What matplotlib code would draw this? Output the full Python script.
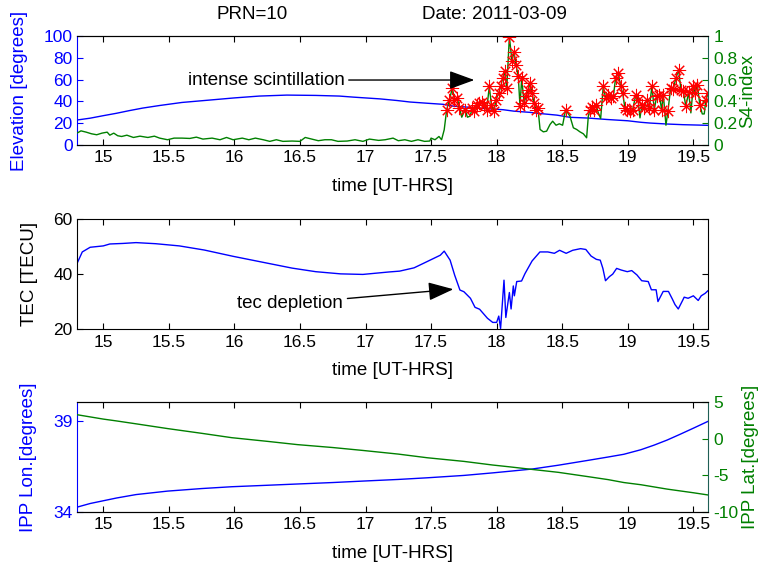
import numpy as np
import matplotlib
matplotlib.use('Agg')
import matplotlib.pyplot as plt

plt.rcParams['font.family'] = ['Liberation Sans', 'DejaVu Sans']
plt.rcParams['axes.unicode_minus'] = False

# elevation (left axis, top panel)
elev_t = [14.80, 14.90, 15.00, 15.10, 15.20, 15.30, 15.43, 15.60, 15.81, 16.00,
          16.19, 16.40, 16.62, 16.80, 16.91, 17.11, 17.24, 17.34, 17.48, 17.59,
          17.67, 17.80, 17.92, 18.05, 18.13, 18.25, 18.33, 18.46, 18.56, 18.70,
          18.84, 19.00, 19.10, 19.17, 19.30, 19.42, 19.61]
elev = [22.8, 24.5, 26.8, 29.0, 31.5, 33.8, 36.2, 39.0, 41.2, 43.2,
        44.9, 45.8, 45.5, 44.9, 43.9, 42.3, 40.8, 39.4, 38.2, 37.3,
        35.6, 34.5, 33.3, 32.3, 31.0, 29.9, 28.8, 27.3, 25.3, 24.6,
        23.3, 22.1, 20.7, 20.0, 19.1, 18.5, 17.9]

# S4 index (right axis, top panel)
s4_t = [14.80, 14.83, 14.87, 14.91, 14.95, 14.99, 15.03, 15.05, 15.08, 15.11,
        15.14, 15.18, 15.23, 15.28, 15.34, 15.39, 15.43, 15.49, 15.54, 15.60,
        15.66, 15.71, 15.76, 15.83, 15.89, 15.94, 15.99, 16.06, 16.11, 16.16,
        16.22, 16.27, 16.32, 16.37, 16.44, 16.50, 16.54, 16.59, 16.64, 16.69,
        16.74, 16.79, 16.86, 16.92, 16.98, 17.03, 17.10, 17.15, 17.21, 17.25,
        17.30, 17.35, 17.40, 17.45, 17.49, 17.50, 17.53, 17.56, 17.58, 17.60,
        17.619, 17.640, 17.662, 17.678, 17.700, 17.716, 17.734, 17.759, 17.777, 17.797,
        17.815, 17.830, 17.848, 17.868, 17.886, 17.904, 17.924, 17.944, 17.960, 17.980,
        17.995, 18.016, 18.031, 18.046, 18.061, 18.077, 18.097, 18.117, 18.132, 18.148,
        18.165, 18.178, 18.191, 18.209, 18.224, 18.242, 18.254, 18.270, 18.285, 18.300,
        18.315, 18.331, 18.356, 18.381, 18.407, 18.427, 18.453, 18.478, 18.503, 18.526,
        18.559, 18.585, 18.610, 18.635, 18.661, 18.686, 18.699, 18.712, 18.727, 18.742,
        18.757, 18.775, 18.793, 18.813, 18.831, 18.851, 18.869, 18.890, 18.907, 18.928,
        18.945, 18.961, 18.978, 18.996, 19.017, 19.037, 19.062, 19.078, 19.093, 19.108,
        19.126, 19.144, 19.164, 19.184, 19.202, 19.220, 19.240, 19.258, 19.271, 19.291,
        19.306, 19.327, 19.347, 19.367, 19.388, 19.405, 19.423, 19.443, 19.464, 19.481,
        19.499, 19.514, 19.530, 19.550, 19.568, 19.583, 19.596, 19.614]
s4 = [0.107, 0.128, 0.116, 0.101, 0.092, 0.107, 0.116, 0.088, 0.107, 0.083,
      0.076, 0.088, 0.067, 0.079, 0.067, 0.079, 0.061, 0.046, 0.061, 0.061,
      0.058, 0.070, 0.052, 0.061, 0.046, 0.067, 0.046, 0.061, 0.046, 0.061,
      0.046, 0.031, 0.046, 0.031, 0.034, 0.031, 0.067, 0.052, 0.037, 0.046,
      0.046, 0.031, 0.034, 0.046, 0.031, 0.052, 0.040, 0.046, 0.061, 0.037,
      0.046, 0.031, 0.046, 0.031, 0.034, 0.061, 0.046, 0.076, 0.046, 0.138,
      0.324, 0.416, 0.523, 0.416, 0.431, 0.339, 0.254, 0.324, 0.254, 0.263,
      0.339, 0.309, 0.370, 0.385, 0.394, 0.364, 0.324, 0.538, 0.364, 0.309,
      0.416, 0.477, 0.538, 0.615, 0.676, 0.523, 0.997, 0.768, 0.859, 0.737,
      0.630, 0.355, 0.615, 0.385, 0.446, 0.508, 0.569, 0.477, 0.385, 0.324,
      0.339, 0.141, 0.119, 0.125, 0.187, 0.217, 0.180, 0.193, 0.180, 0.324,
      0.263, 0.156, 0.141, 0.119, 0.101, 0.064, 0.263, 0.324, 0.346, 0.324,
      0.370, 0.294, 0.242, 0.538, 0.431, 0.462, 0.431, 0.446, 0.615, 0.661,
      0.538, 0.477, 0.339, 0.324, 0.309, 0.324, 0.462, 0.416, 0.248, 0.370,
      0.339, 0.416, 0.339, 0.538, 0.324, 0.446, 0.462, 0.324, 0.462, 0.180,
      0.309, 0.523, 0.517, 0.615, 0.691, 0.508, 0.492, 0.355, 0.486, 0.294,
      0.538, 0.477, 0.554, 0.364, 0.284, 0.284, 0.416, 0.477]
s4_limit = 0.3  # scintillation threshold marked with red stars

# TEC (middle panel)
tec_t = [14.80, 14.84, 14.90, 15.00, 15.05, 15.15, 15.25, 15.40, 15.58, 15.77,
         15.99, 16.22, 16.44, 16.62, 16.81, 16.98, 17.18, 17.26, 17.37, 17.44,
         17.57, 17.60, 17.645, 17.68, 17.72, 17.75, 17.80, 17.835, 17.87, 17.93,
         17.97, 18.00, 18.016, 18.03, 18.056, 18.07, 18.097, 18.11, 18.127, 18.135,
         18.153, 18.19, 18.216, 18.27, 18.33, 18.39, 18.44, 18.48, 18.53, 18.58,
         18.64, 18.68, 18.72, 18.76, 18.79, 18.81, 18.83, 18.86, 18.885, 18.915,
         18.95, 18.996, 19.03, 19.07, 19.106, 19.156, 19.18, 19.216, 19.23, 19.27,
         19.31, 19.34, 19.36, 19.385, 19.42, 19.43, 19.46, 19.50, 19.537, 19.56,
         19.59, 19.61]
tec = [43.9, 48.1, 49.8, 50.3, 51.0, 51.2, 51.5, 51.1, 50.3, 48.8,
       46.5, 44.3, 42.2, 40.9, 40.1, 39.9, 40.8, 41.1, 42.3, 43.9,
       46.9, 48.4, 45.1, 39.6, 34.2, 33.6, 31.2, 27.9, 27.2, 23.9,
       22.4, 22.4, 24.7, 20.2, 37.8, 24.2, 33.3, 27.3, 35.7, 32.1,
       37.3, 37.5, 40.2, 44.8, 48.1, 48.1, 47.6, 48.7, 47.6, 48.7,
       49.3, 49.0, 46.6, 45.4, 45.1, 42.1, 37.6, 39.1, 40.0, 42.1,
       41.5, 40.9, 41.3, 39.7, 37.6, 37.3, 34.3, 34.3, 30.0, 33.7,
       33.7, 30.9, 28.9, 27.3, 30.6, 31.6, 31.2, 32.1, 30.4, 32.1,
       33.0, 33.9]

# IPP position (bottom panel)
ipp_t = [14.80, 14.90, 15.00, 15.10, 15.25, 15.49, 15.75, 15.98, 16.25, 16.48,
         16.75, 16.98, 17.25, 17.47, 17.75, 17.97, 18.10, 18.27, 18.47, 18.70,
         18.85, 18.97, 19.10, 19.20, 19.30, 19.40, 19.50, 19.61]
ipp_lon = [34.25, 34.45, 34.6, 34.75, 34.94, 35.13, 35.27, 35.37, 35.45, 35.52,
           35.6, 35.68, 35.77, 35.86, 35.99, 36.13, 36.22, 36.34, 36.55, 36.82,
           37.0, 37.15, 37.4, 37.65, 37.93, 38.25, 38.58, 38.95]
ipp_lat = [3.3, 3.0, 2.7, 2.45, 2.05, 1.4, 0.75, 0.15, -0.35, -0.8,
           -1.2, -1.6, -2.1, -2.6, -3.1, -3.6, -3.85, -4.2, -4.6, -5.2,
           -5.6, -6.0, -6.3, -6.6, -6.9, -7.15, -7.4, -7.7]

xticks = [15, 15.5, 16, 16.5, 17, 17.5, 18, 18.5, 19, 19.5]
xlim = (14.80, 19.61)

BLUE = '#0000ff'
GREEN = '#008000'
RSPINE = '#1f5f55'
FS = 12.5
LFS = 13.5
ARROW = dict(arrowstyle='-|>,head_length=1.15,head_width=0.42',
             color='k', lw=1.0, shrinkA=1, shrinkB=0)

fig = plt.figure(figsize=(7.65, 5.68), dpi=100)
L, W = 0.1007, 0.8245


def style_x(ax, h):
    ax.set_xlim(*xlim)
    ax.set_xticks(xticks)
    ax.set_xticklabels(['%g' % v for v in xticks])
    ax.tick_params(axis='x', direction='in', length=4.5, top=True, pad=4,
                   labelsize=FS, color='k')
    ax.set_xlabel('time [UT-HRS]', fontsize=LFS)
    ax.xaxis.label.set_va('center')
    ax.xaxis.set_label_coords(0.5, -42 / h)


def yl(ax, x_px):
    ax.yaxis.label.set_va('center')
    ax.yaxis.set_label_coords((x_px - 77) / 630.7, 0.5)


# ---------- top panel: elevation + S4 ----------
ax1 = fig.add_axes([L, 0.7452, W, 0.1908])
ax1.plot(elev_t, elev, color=BLUE, lw=1.0)
ax1.set_ylim(0, 100)
ax1.set_yticks([0, 20, 40, 60, 80, 100])
ax1.tick_params(axis='y', direction='in', length=4.5, colors=BLUE, labelsize=FS, pad=3)
ax1.set_ylabel('Elevation [degrees]', color=BLUE, fontsize=LFS)
style_x(ax1, 108.4)
yl(ax1, 19.5)
ax1.spines['left'].set_color(BLUE)
ax1.spines['right'].set_visible(False)

ax1r = ax1.twinx()
ax1r.plot(s4_t, s4, color=GREEN, lw=1.0)
s4_arr = np.array(s4)
t_arr = np.array(s4_t)
mask = s4_arr > s4_limit
ax1r.plot(t_arr[mask], s4_arr[mask], ls='none', marker=(8, 2, 0), color='red',
          markersize=9.5, mew=0.75)
ax1r.set_ylim(0, 1)
ax1r.set_yticks([0, 0.2, 0.4, 0.6, 0.8, 1])
ax1r.set_yticklabels(['0', '0.2', '0.4', '0.6', '0.8', '1'])
ax1r.tick_params(axis='y', direction='in', length=4.5, colors=GREEN, labelsize=FS, pad=4)
ax1r.set_ylabel('S4-index', color=GREEN, fontsize=LFS, rotation=90)
yl(ax1r, 748)
ax1r.spines['right'].set_color(RSPINE)
ax1r.spines['left'].set_visible(False)
ax1r.set_xlim(*xlim)
ax1r.annotate('intense scintillation', xy=(17.83, 0.597), xytext=(16.84, 0.597),
              ha='right', va='center', fontsize=LFS, arrowprops=ARROW)

fig.text(0.329, 0.974, 'PRN=10', ha='center', va='center', fontsize=LFS)
fig.text(0.646, 0.974, 'Date: 2011-03-09', ha='center', va='center', fontsize=LFS)

# ---------- middle panel: TEC ----------
ax2 = fig.add_axes([L, 0.4208, W, 0.1931])
ax2.plot(tec_t, tec, color=BLUE, lw=1.0)
ax2.set_ylim(20, 60)
ax2.set_yticks([20, 40, 60])
ax2.tick_params(axis='y', direction='in', length=4.5, right=True, labelsize=FS, pad=3)
ax2.set_ylabel('TEC [TECU]', fontsize=LFS)
style_x(ax2, 109.7)
yl(ax2, 29)
ax2.annotate('tec depletion', xy=(17.67, 34.5), xytext=(16.83, 29.3),
             ha='right', va='center', fontsize=LFS, arrowprops=ARROW)

# ---------- bottom panel: IPP lon / lat ----------
ax3 = fig.add_axes([L, 0.0991, W, 0.1926])
ax3.plot(ipp_t, ipp_lon, color=BLUE, lw=1.0)
ax3.set_ylim(34, 40)
ax3.set_yticks([34, 39])
ax3.tick_params(axis='y', direction='in', length=4.5, colors=BLUE, labelsize=FS, pad=3)
ax3.set_ylabel('IPP Lon.[degrees]', color=BLUE, fontsize=LFS)
style_x(ax3, 109.4)
yl(ax3, 28)
ax3.spines['left'].set_color(BLUE)
ax3.spines['right'].set_visible(False)

ax3r = ax3.twinx()
ax3r.plot(ipp_t, ipp_lat, color=GREEN, lw=1.0)
ax3r.set_ylim(-10, 5)
ax3r.set_yticks([-10, -5, 0, 5])
ax3r.tick_params(axis='y', direction='in', length=4.5, colors=GREEN, labelsize=FS, pad=4)
ax3r.set_ylabel('IPP Lat.[degrees]', color=GREEN, fontsize=LFS, rotation=90)
yl(ax3r, 750)
ax3r.spines['right'].set_color(RSPINE)
ax3r.spines['left'].set_visible(False)
ax3r.set_xlim(*xlim)

fig.savefig('out.png', dpi=100)
